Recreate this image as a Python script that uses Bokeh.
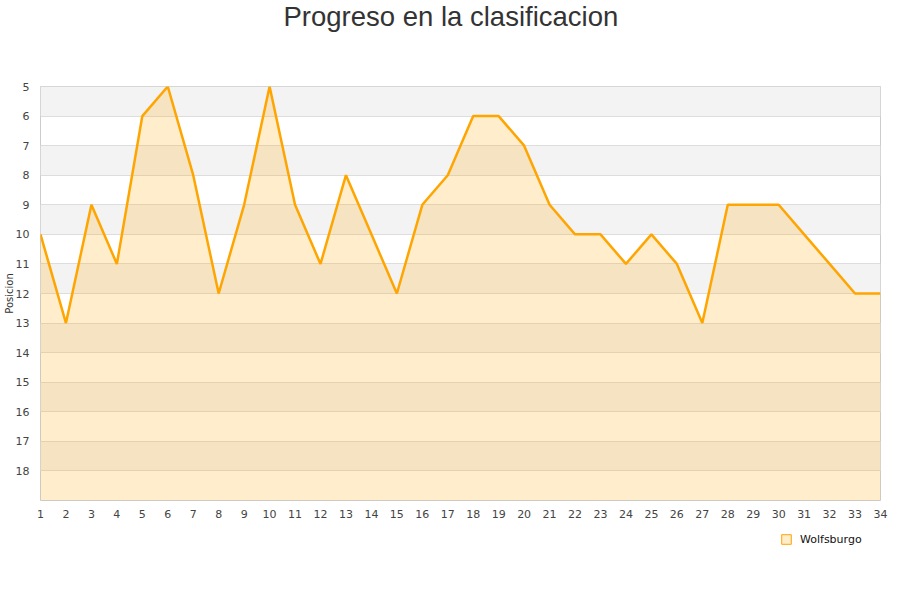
from bokeh.plotting import figure
from bokeh.layouts import column
from bokeh.models import Range1d, FixedTicker, Legend, LegendItem, Title
from bokeh.embed import file_html
from bokeh.resources import INLINE

jornadas = list(range(1, 35))
posicion = [10, 13, 9, 11, 6, 5, 8, 12, 9, 5, 9, 11, 8, 10, 12, 9, 8, 6, 6, 7,
            9, 10, 10, 11, 10, 11, 13, 9, 9, 9, 10, 11, 12, 12]
equipo = "Wolfsburgo"
titulo = "Progreso en la clasificacion"
y_ticks = list(range(5, 19))

ORANGE = "#FFA500"

p = figure(width=900, height=530, output_backend="svg", toolbar_location=None,
           x_range=Range1d(1, 34), y_range=Range1d(19, 5),
           min_border_left=40, min_border_right=20, min_border_top=0, min_border_bottom=30)

# spacer between the title and the plot area, then the title itself
# (the title is centred on the page, not on the plot area)
p.add_layout(Title(text=" ", text_font_size="2px", standoff=49), "above")
p.add_layout(Title(text=titulo, align="left", offset=243, vertical_align="top", standoff=0,
                   text_font="Liberation Sans", text_font_size="27.5px",
                   text_font_style="normal", text_color="#333333"), "above")

p.background_fill_color = "white"
p.border_fill_color = "white"
p.outline_line_color = "#cccccc"

# alternating bands
band_bottom = list(range(5, 19, 2))
p.quad(left=1, right=34, bottom=band_bottom, top=[b + 1 for b in band_bottom],
       fill_color="#f3f3f3", line_color=None, level="image")

p.varea(x=jornadas, y1=posicion, y2=19, fill_color=ORANGE, fill_alpha=0.2)
p.line(jornadas, posicion, line_color=ORANGE, line_width=2.5)

p.xgrid.grid_line_color = None
p.ygrid.ticker = FixedTicker(ticks=list(range(5, 20)))
p.ygrid.grid_line_color = "#dddddd"

p.xaxis.ticker = FixedTicker(ticks=jornadas)
p.yaxis.ticker = FixedTicker(ticks=y_ticks)
for ax in (p.xaxis, p.yaxis):
    ax.axis_line_color = None
    ax.major_tick_line_color = None
    ax.minor_tick_line_color = None
    ax.major_label_text_font = "DejaVu Sans"
    ax.major_label_text_font_size = "11px"
    ax.major_label_text_color = "#444444"
p.xaxis.major_label_standoff = 3
p.yaxis.major_label_standoff = 5
p.yaxis.axis_label = "Posicion"
p.yaxis.axis_label_text_font = "DejaVu Sans"
p.yaxis.axis_label_text_font_size = "10px"
p.yaxis.axis_label_text_font_style = "normal"
p.yaxis.axis_label_text_color = "#333333"
p.yaxis.axis_label_standoff = -2

# legend strip below the chart (its frame lines up with the chart's frame)
leg = figure(width=900, height=70, output_backend="svg", toolbar_location=None,
             x_range=Range1d(1, 34), y_range=Range1d(19, 5), min_border=0,
             x_axis_location=None, y_axis_location=None)
leg.grid.visible = False
leg.outline_line_color = None
key = leg.scatter(x=jornadas, y=posicion, marker="square", fill_color="#ffedcc",
                  line_color=ORANGE, line_width=1, visible=False)
legend = Legend(items=[LegendItem(label=equipo, renderers=[key])],
                location=(734, 49), padding=0, margin=0, glyph_width=24, glyph_height=24,
                label_standoff=2, label_text_font="DejaVu Sans", label_text_font_size="11px",
                label_text_color="#111111", border_line_color=None, background_fill_alpha=0)
leg.add_layout(legend, "center")

open("out.html", "w").write(file_html(column(p, leg, spacing=0), INLINE))
